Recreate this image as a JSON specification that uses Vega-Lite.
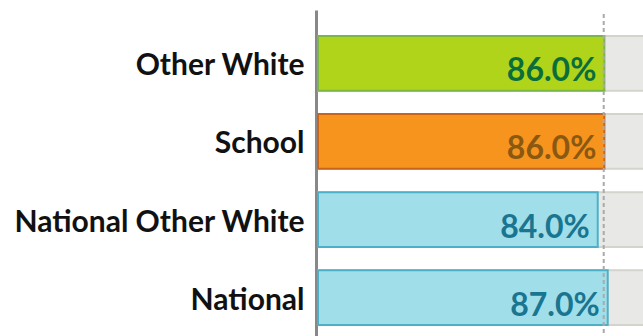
{
  "$schema": "https://vega.github.io/schema/vega-lite/v6.json",
  "autosize": "none",
  "padding": {"left": 318, "top": 10, "right": 0, "bottom": 0},
  "width": 333,
  "height": 341,
  "background": "white",
  "config": {"view": {"stroke": null}},
  "data": {
    "values": [
      {"group": "Other White", "value": 86.0, "full": 100, "label": "86.0%", "kind": "school_group"},
      {"group": "School", "value": 86.0, "full": 100, "label": "86.0%", "kind": "school"},
      {"group": "National Other White", "value": 84.0, "full": 100, "label": "84.0%", "kind": "national"},
      {"group": "National", "value": 87.0, "full": 100, "label": "87.0%", "kind": "national"}
    ]
  },
  "encoding": {
    "y": {
      "field": "group",
      "type": "nominal",
      "sort": null,
      "scale": {"paddingInner": 0.3, "paddingOuter": 0.333},
      "axis": {
        "title": null,
        "ticks": false,
        "domainColor": "#888888",
        "domainWidth": 3,
        "offset": 2,
        "labelFont": "Lato",
        "labelFontWeight": "bold",
        "labelFontSize": 30,
        "labelColor": "#111111",
        "labelPadding": 12,
        "labelOffset": 3,
        "labelLimit": 400
      }
    }
  },
  "layer": [
    {
      "mark": {"type": "bar", "fill": "#e8e8e6", "stroke": "#d4d4cc", "strokeWidth": 2, "clip": false},
      "encoding": {
        "x": {"field": "full", "type": "quantitative", "scale": {"domain": [0, 100]}, "axis": null}
      }
    },
    {
      "mark": {"type": "bar", "strokeWidth": 2},
      "encoding": {
        "x": {"field": "value", "type": "quantitative"},
        "fill": {
          "field": "kind", "type": "nominal", "legend": null,
          "scale": {"domain": ["school_group", "school", "national"], "range": ["#b0d41a", "#f7941e", "#a0dfea"]}
        },
        "stroke": {
          "field": "kind", "type": "nominal", "legend": null,
          "scale": {"domain": ["school_group", "school", "national"], "range": ["#7ab648", "#c8651a", "#4bb0c8"]}
        }
      }
    },
    {
      "mark": {"type": "rule", "strokeDash": [4, 3], "color": "#aaaaaa", "strokeWidth": 2},
      "data": {"values": [{"target": 85.8}]},
      "encoding": {
        "x": {"field": "target", "type": "quantitative"},
        "y": {"value": 4},
        "y2": {"value": 336}
      }
    },
    {
      "mark": {"type": "text", "align": "right", "baseline": "middle", "dx": -8, "dy": 8, "font": "Lato", "fontWeight": "bold", "fontSize": 32},
      "encoding": {
        "x": {"field": "value", "type": "quantitative"},
        "text": {"field": "label"},
        "color": {
          "field": "kind", "type": "nominal", "legend": null,
          "scale": {"domain": ["school_group", "school", "national"], "range": ["#0b6e3a", "#8a5810", "#1a7590"]}
        }
      }
    }
  ]
}
